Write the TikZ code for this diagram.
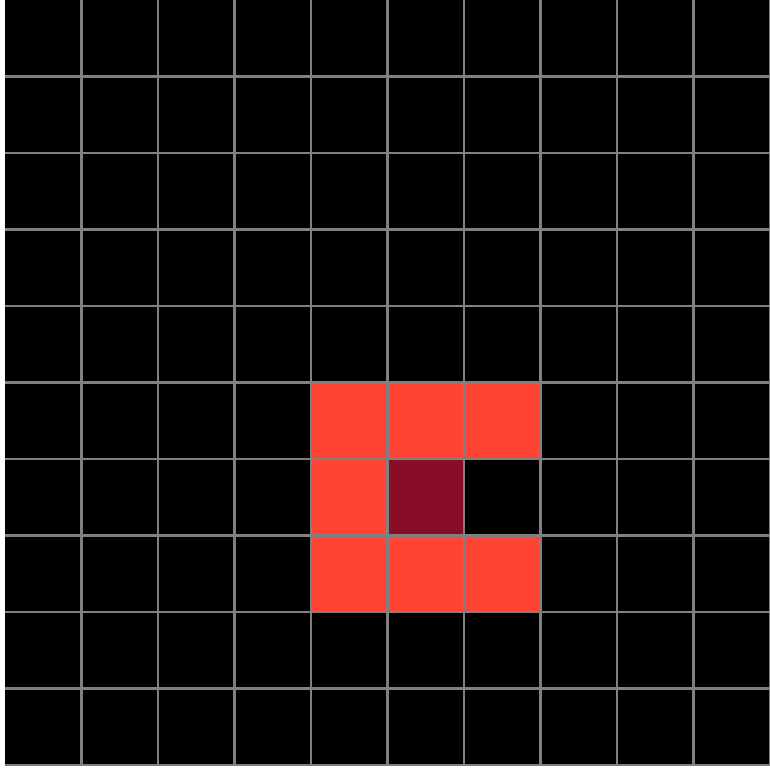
\documentclass[tikz,border=0pt]{standalone}
\usepackage{xcolor}
\usepackage{tikz}
\definecolor{cellred}{HTML}{FF4436}
\definecolor{cellcore}{HTML}{880E28}
\definecolor{gridgray}{HTML}{808080}

\begin{document}
\begin{tikzpicture}[x=1cm, y=1cm]
  \def\ncell{10}
  \useasboundingbox (-0.065,-0.065) rectangle (\ncell,\ncell);
  % ---- board
  \fill[black] (0,0) rectangle (\ncell,\ncell);
  % ---- live cells round the core cell
  \foreach \cx/\cy in {4/4, 5/4, 6/4, 4/3, 4/2, 5/2, 6/2} {
    \fill[cellred] (\cx,\cy) rectangle ++(1,1);
  }
  \fill[cellcore] (5,3) rectangle ++(1,1);
  % ---- grid lines, clipped to the board
  \begin{scope}
    \clip (0,0) rectangle (\ncell,\ncell);
    \foreach \k in {1,...,10} {
      \draw[gridgray, line width=1.1pt] (\k,0) -- (\k,\ncell);
      \draw[gridgray, line width=1.1pt] (0,\k-1) -- (\ncell,\k-1);
    }
  \end{scope}
\end{tikzpicture}
\end{document}
